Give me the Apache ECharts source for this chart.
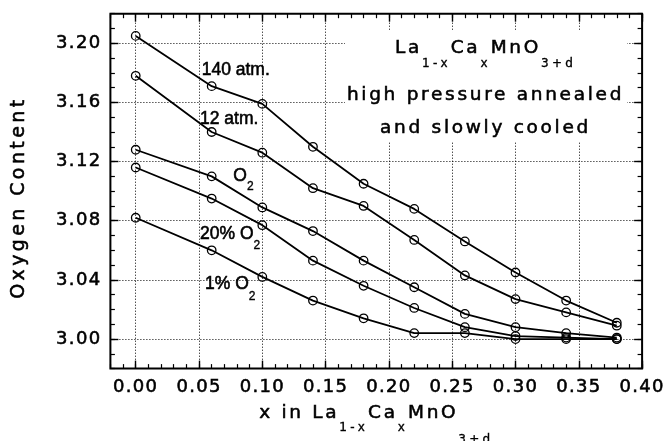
<!DOCTYPE html>
<html>
<head>
<meta charset="utf-8">
<style>
html,body{margin:0;padding:0;background:#ffffff;}
#chart{width:665px;height:441px;}
</style>
<script src="https://cdn.jsdelivr.net/npm/echarts@6/dist/echarts.min.js"></script>
</head>
<body>
<div id="chart"></div>
<script>
// ---------------- data ----------------
const xValues   = [0.00, 0.06, 0.10, 0.14, 0.18, 0.22, 0.26, 0.30, 0.34, 0.38];
const atm140    = [3.205, 3.171, 3.159, 3.130, 3.105, 3.088, 3.066, 3.045, 3.026, 3.011];
const atm12     = [3.178, 3.140, 3.126, 3.102, 3.090, 3.067, 3.043, 3.027, 3.018, 3.009];
const pureO2    = [3.128, 3.110, 3.089, 3.073, 3.053, 3.035, 3.017, 3.008, 3.004, 3.001];
const pct20O2   = [3.116, 3.095, 3.077, 3.053, 3.036, 3.021, 3.008, 3.002, 3.001, 3.000];
const pct1O2    = [3.082, 3.060, 3.042, 3.026, 3.014, 3.004, 3.004, 3.000, 3.000, 3.000];
const seriesNames = ['140 atm.', '12 atm.', 'O2', '20% O2', '1% O2'];
const xTickValues = [0.00, 0.05, 0.10, 0.15, 0.20, 0.25, 0.30, 0.35, 0.40];
const yTickValues = [3.00, 3.04, 3.08, 3.12, 3.16, 3.20];

// ---------------- wide lettering like the original figure ----------------
(function () {
  const P = window.CanvasRenderingContext2D && CanvasRenderingContext2D.prototype;
  if (!P || !('letterSpacing' in P)) return;
  const d = Object.getOwnPropertyDescriptor(P, 'font');
  if (!d || !d.set) return;
  const table = {'18': 1.3, '18.5': 2.7, '19': 3.4, '12': 3.2};
  Object.defineProperty(P, 'font', {
    configurable: true,
    get: function () { return d.get.call(this); },
    set: function (v) {
      d.set.call(this, v);
      let ls = 0;
      if (/DejaVu/.test(v)) {
        const m = /(\d+(?:\.\d+)?)px/.exec(v);
        if (m && table[m[1]] != null) ls = table[m[1]];
      }
      this.letterSpacing = ls + 'px';
    }
  });
})();

const TICK_FONT = 'DejaVu Sans';
const LABEL_FONT = 'Liberation Sans';
const X_MIN = -0.02, X_MAX = 0.40, Y_MIN = 2.98, Y_MAX = 3.22;
const INK = 0.55; // slight stroke to mimic the heavy printed lettering

function onList(list, v) {
  return list.some(t => Math.abs(t - v) < 1e-9);
}

function majorAxis(dim, pos, withLabels) {
  const isX = dim === 'x';
  const ticks = isX ? xTickValues : yTickValues;
  const step = isX ? 0.05 : 0.04;
  return {
    type: 'value',
    position: pos,
    min: isX ? X_MIN : Y_MIN,
    max: isX ? X_MAX : Y_MAX,
    minInterval: step,
    maxInterval: step,
    axisLine: {show: false, onZero: false},
    axisTick: {show: true, inside: true, length: 8, customValues: ticks,
               lineStyle: {color: '#000', width: 1.4}},
    minorTick: {show: false},
    axisLabel: {
      show: withLabels,
      customValues: ticks,
      margin: 9,
      color: '#000',
      fontSize: 18,
      fontFamily: TICK_FONT,
      textBorderColor: '#000',
      textBorderWidth: INK,
      formatter: v => onList(ticks, v) ? v.toFixed(2) : ''
    },
    splitLine: {show: withLabels, lineStyle: {color: '#000', width: 1, type: [1, 2]}},
    z: 3
  };
}

function minorAxis(dim, pos) {
  const isX = dim === 'x';
  return {
    type: 'value',
    position: pos,
    min: isX ? X_MIN : Y_MIN,
    max: isX ? X_MAX : Y_MAX,
    interval: 0.01,
    axisLine: {show: false, onZero: false},
    axisTick: {show: true, inside: true, length: 4.5, lineStyle: {color: '#000', width: 1.2}},
    axisLabel: {show: false},
    splitLine: {show: false},
    z: 3
  };
}

const xAxes = [
  majorAxis('x', 'bottom', true),
  minorAxis('x', 'bottom'),
  majorAxis('x', 'top', false),
  minorAxis('x', 'top')
];
const subStyle = pad => ({fontSize: 12, fontFamily: TICK_FONT, color: '#000',
  textBorderColor: '#000', textBorderWidth: 0.35, padding: [pad, 0, 0, 0]});
xAxes[0].name = '{m|x in La}{s|1-x}{m|Ca}{t|x}{m|MnO}{u|3+d}';
xAxes[0].nameLocation = 'middle';
xAxes[0].nameGap = 2.5;
xAxes[0].nameTextStyle = {
  color: '#000',
  rich: {
    m: {fontSize: 18.5, fontFamily: TICK_FONT, color: '#000', textBorderColor: '#000', textBorderWidth: INK},
    s: subStyle(29),
    t: subStyle(30),
    u: subStyle(54)
  }
};

const yAxes = [
  majorAxis('y', 'left', true),
  minorAxis('y', 'left'),
  majorAxis('y', 'right', false),
  minorAxis('y', 'right')
];
yAxes[0].name = 'Oxygen Content';
yAxes[0].nameLocation = 'middle';
yAxes[0].nameGap = 80;
yAxes[0].nameTextStyle = {color: '#000', fontSize: 19, fontFamily: TICK_FONT,
  textBorderColor: '#000', textBorderWidth: INK, padding: [0, 13, 0, 0]};

const seriesData = [atm140, atm12, pureO2, pct20O2, pct1O2];
const series = seriesData.map((arr, k) => ({
  name: seriesNames[k],
  type: 'line',
  xAxisIndex: 0,
  yAxisIndex: 0,
  data: xValues.map((x, i) => [x, arr[i]]),
  symbol: 'circle',
  symbolSize: 8.5,
  showAllSymbol: true,
  lineStyle: {color: '#000', width: 1.8},
  itemStyle: {color: 'rgba(0,0,0,0)', borderColor: '#000', borderWidth: 1.3},
  emphasis: {disabled: true},
  animation: false,
  z: 4
}));

function lineLabel(x, y, main, sub, pad) {
  const el = {
    type: 'text', x: x, y: y, z: 10,
    style: {
      fill: '#000', stroke: '#000', lineWidth: INK,
      align: 'left', verticalAlign: 'middle',
      textAlign: 'left', textVerticalAlign: 'middle',
      fontSize: 17.5, fontFamily: LABEL_FONT
    }
  };
  if (sub) {
    el.style.text = '{m|' + main + '}{s|' + sub + '}';
    el.style.rich = {
      m: {fontSize: 17.5, fontFamily: LABEL_FONT, fill: '#000', stroke: '#000', lineWidth: INK},
      s: {fontSize: 12, fontFamily: LABEL_FONT, fill: '#000', stroke: '#000', lineWidth: 0.35, padding: [pad, 0, 0, 0]}
    };
  } else {
    el.style.text = main;
  }
  return el;
}

function titleText(y, text, rich) {
  return {
    type: 'text', x: 485.5, y: y, z: 10,
    style: {
      text: text, rich: rich, fill: '#000', stroke: '#000', lineWidth: INK,
      align: 'center', verticalAlign: 'middle',
      textAlign: 'center', textVerticalAlign: 'middle',
      fontSize: 18.5, fontFamily: TICK_FONT
    }
  };
}

const graphics = [
  {type: 'rect', z: 5, shape: {x: 345, y: 30, width: 282, height: 112}, style: {fill: '#ffffff'}},
  titleText(48.3, '{m|La}{s|1-x}{m|Ca}{s|x}{m|MnO}{s|3+d}', {
    m: {fontSize: 18.5, fontFamily: TICK_FONT, fill: '#000', stroke: '#000', lineWidth: INK},
    s: {fontSize: 12, fontFamily: TICK_FONT, fill: '#000', stroke: '#000', lineWidth: 0.35, padding: [31, 0, 0, 0]}
  }),
  titleText(95, 'high pressure annealed'),
  titleText(127.7, 'and slowly cooled'),
  lineLabel(201.7, 69.7, '140 atm.'),
  lineLabel(200, 118.8, '12 atm.'),
  lineLabel(233.3, 175.8, 'O', '2', 22),
  lineLabel(200, 234.2, '20% O', '2', 22),
  lineLabel(205, 284.2, '1% O', '2', 25)
];

const chart = echarts.init(document.getElementById('chart'), null, {renderer: 'canvas'});
chart.setOption({
  animation: false,
  backgroundColor: '#ffffff',
  grid: {
    left: 110.4, right: 22.9, top: 13.7, bottom: 72.4,
    show: true, borderColor: '#000', borderWidth: 2, backgroundColor: 'transparent',
    containLabel: false, outerBoundsMode: 'none'
  },
  tooltip: {show: false},
  legend: {show: false},
  xAxis: xAxes,
  yAxis: yAxes,
  series: series,
  graphic: graphics
});
</script>
</body>
</html>
